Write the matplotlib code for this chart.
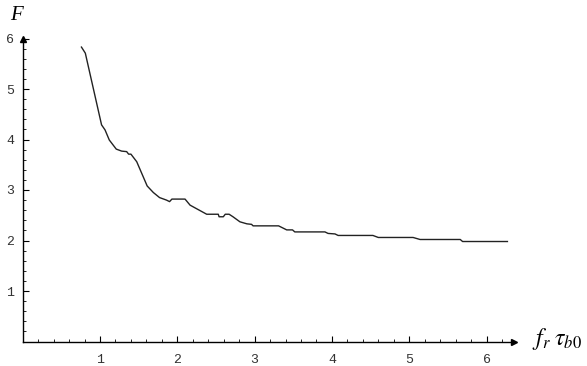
import numpy as np
import matplotlib
matplotlib.use("Agg")
import matplotlib.pyplot as plt

plt.rcParams['mathtext.fontset'] = 'stix'

# curve
fr_tau = [0.76, 0.81, 1.02, 1.065, 1.12, 1.17, 1.21, 1.28, 1.345, 1.37, 1.40,
          1.475, 1.61, 1.69, 1.77, 1.86, 1.90, 1.93, 2.10, 2.165, 2.38, 2.53,
          2.54, 2.595, 2.62, 2.67, 2.72, 2.81, 2.90, 2.96, 2.98, 3.31, 3.415,
          3.49, 3.52, 3.91, 3.95, 4.04, 4.08, 4.53, 4.60, 5.05, 5.14, 5.66,
          5.69, 6.27]
F_vals = [5.83, 5.71, 4.29, 4.19, 3.99, 3.89, 3.81, 3.77, 3.76, 3.71, 3.71,
          3.56, 3.08, 2.95, 2.85, 2.80, 2.77, 2.82, 2.82, 2.70, 2.52, 2.52,
          2.47, 2.47, 2.52, 2.52, 2.47, 2.37, 2.33, 2.32, 2.29, 2.29, 2.21,
          2.21, 2.17, 2.17, 2.14, 2.13, 2.10, 2.10, 2.06, 2.06, 2.02, 2.02,
          1.98, 1.98]
xticks = [1, 2, 3, 4, 5, 6]
yticks = [1, 2, 3, 4, 5, 6]

W, H = 587, 366
fig = plt.figure(figsize=(W / 100, H / 100), dpi=100)
ax = fig.add_axes([22.7 / W, (H - 341.5) / H, 490.9 / W, 303 / H])
ax.plot(fr_tau, F_vals, color='#222222', lw=1.0)
ax.set_xlim(0, 6.35)
ax.set_ylim(0, 6.0)

for s in ['top', 'right']:
    ax.spines[s].set_visible(False)
for s in ['left', 'bottom']:
    ax.spines[s].set_linewidth(1.0)
ax.plot(1, 0, '>k', ms=5, transform=ax.transAxes, clip_on=False)
ax.plot(0, 1, '^k', ms=5, transform=ax.transAxes, clip_on=False)

ax.set_xticks(xticks)
ax.set_yticks(yticks)
ax.set_xticks(np.arange(0.2, 6.3, 0.2), minor=True)
ax.set_yticks(np.arange(0.2, 6.0, 0.2), minor=True)
ax.tick_params(which='major', direction='in', length=4, width=0.8,
               labelsize=9.5, pad=9, labelcolor='#333333')
ax.tick_params(which='minor', direction='in', length=2.5, width=0.6)
ax.tick_params(axis='y', pad=6)
for lab in ax.get_xticklabels() + ax.get_yticklabels():
    lab.set_family('Liberation Mono')

fig.text(16 / W, 1 - 15 / H, 'F', family='Liberation Serif', style='italic',
         fontsize=15, ha='center', va='center')
fig.text(532 / W, 1 - 345 / H, r'$f_r\;\tau_{b0}$', fontsize=17,
         ha='left', va='baseline')

fig.savefig('out.png', dpi=100)
